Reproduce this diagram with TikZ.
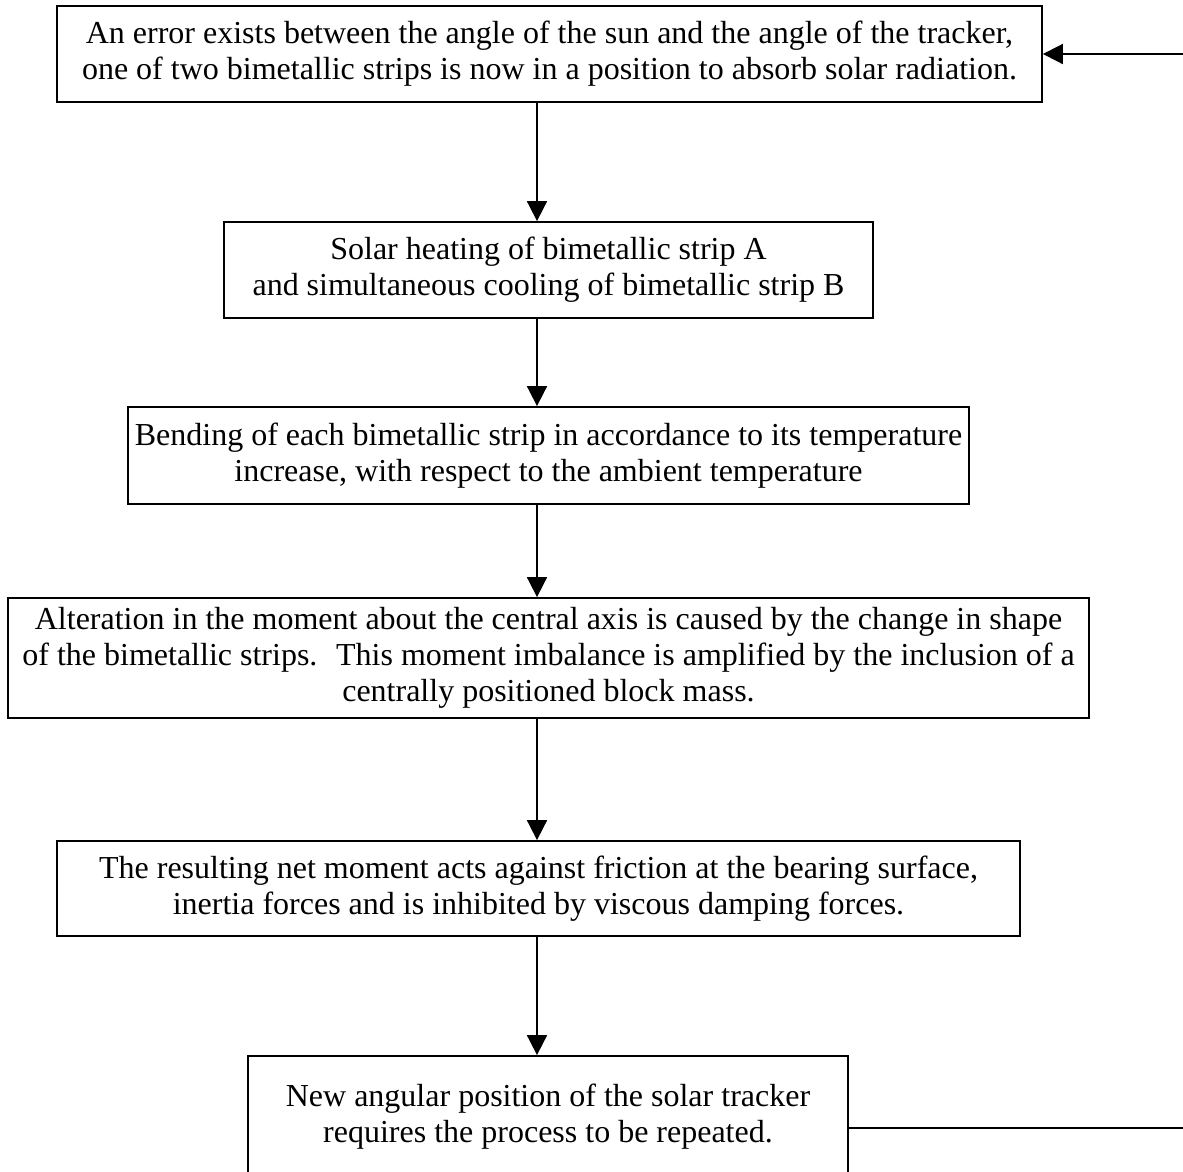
\documentclass[tikz,border=0pt]{standalone}
\usepackage{fontspec}
\setmainfont{Liberation Serif}
\usepackage{tikz}
\usetikzlibrary{arrows.meta}
\newcommand{\boxFont}[0]{\fontsize{32}{36}\selectfont}
\newcommand{\lineWidth}[0]{1.8pt}

\begin{document}
\begin{tikzpicture}[x=1pt, y=-1pt, >={Triangle[length=20pt,width=20pt]}]
  \tikzset{flow box/.style={draw, line width=\lineWidth, align=center, inner sep=0pt, font=\boxFont}}
  \tikzset{flow line/.style={line width=\lineWidth}}
  \useasboundingbox (0,0) rectangle (1183,1171);
  \clip (0,0) rectangle (1183,1171);
  \node[flow box, minimum width=985pt, minimum height=96pt] (box-1) at (549.5,54)
    {An error exists between the angle of the sun and the angle of the tracker,\\
     one of two bimetallic strips is now in a position to absorb solar radiation.};
  \node[flow box, minimum width=649pt, minimum height=96pt] (box-2) at (548.5,270)
    {Solar heating of bimetallic strip A\\
     and simultaneous cooling of bimetallic strip B};
  \node[flow box, minimum width=841pt, minimum height=97pt] (box-3) at (548.5,455.5)
    {Bending of each bimetallic strip in accordance to its temperature\\
     increase, with respect to the ambient temperature};
  \node[flow box, minimum width=1081pt, minimum height=120pt] (box-4) at (548.5,658)
    {Alteration in the moment about the central axis is caused by the change in shape\\
     of the bimetallic strips.~ This moment imbalance is amplified by the inclusion of a\\
     centrally positioned block mass.};
  \node[flow box, minimum width=963pt, minimum height=95pt] (box-5) at (538.5,888.5)
    {The resulting net moment acts against friction at the bearing surface,\\
     inertia forces and is inhibited by viscous damping forces.};
  \node[flow box, minimum width=600pt, minimum height=122pt] (box-6) at (548,1117)
    {New angular position of the solar tracker\\
     requires the process to be repeated.};
  \coordinate (spine) at (537,0);
  \coordinate (loop-in) at (1183,54);
  \coordinate (loop-out) at (1183,1128);
  \draw[flow line, ->] (box-1.south -| spine) -- (box-2.north -| spine);
  \draw[flow line, ->] (box-2.south -| spine) -- (box-3.north -| spine);
  \draw[flow line, ->] (box-3.south -| spine) -- (box-4.north -| spine);
  \draw[flow line, ->] (box-4.south -| spine) -- (box-5.north -| spine);
  \draw[flow line, ->] (box-5.south -| spine) -- (box-6.north -| spine);
  \draw[flow line] (box-6.east |- loop-out) -- (loop-out);
  \draw[flow line, ->] (loop-in) -- (box-1.east);
\end{tikzpicture}
\end{document}
